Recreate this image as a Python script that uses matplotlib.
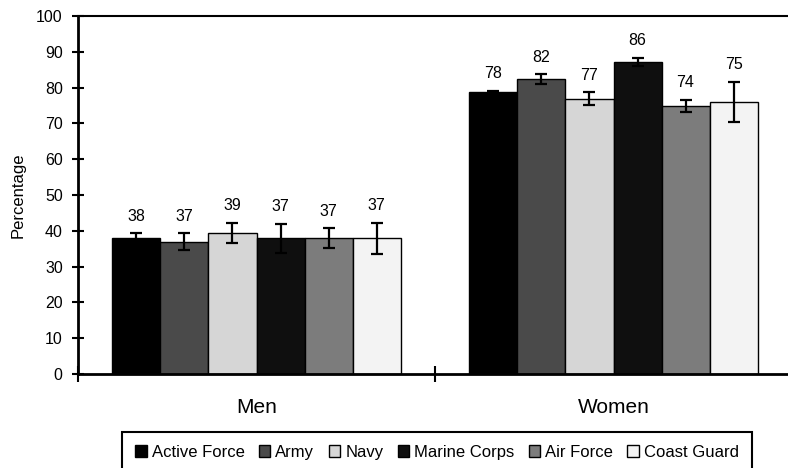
import matplotlib
matplotlib.use("Agg")
import matplotlib.pyplot as plt
from matplotlib.patches import Patch
import numpy as np

plt.rcParams['font.family'] = ['Liberation Sans', 'DejaVu Sans']

groups = ['Men', 'Women']
services = ['Active Force', 'Army', 'Navy', 'Marine Corps', 'Air Force', 'Coast Guard']
men_values = [37.9, 36.9, 39.4, 37.9, 37.9, 37.9]
women_values = [78.7, 82.4, 76.9, 87.1, 74.9, 76.0]
men_err = [1.4, 2.4, 2.8, 4.0, 2.8, 4.3]
women_err = [0.4, 1.3, 1.8, 1.2, 1.6, 5.6]
men_labels = ['38', '37', '39', '37', '37', '37']
women_labels = ['78', '82', '77', '86', '74', '75']
yticks = [0, 10, 20, 30, 40, 50, 60, 70, 80, 90, 100]

colors = ['#000000', '#4a4a4a', '#d6d6d6', '#0f0f0f', '#7c7c7c', '#f3f3f3']

W, H = 788, 468
fig = plt.figure(figsize=(W / 100, H / 100), dpi=100)
ax = fig.add_axes([78 / W, 1 - 374 / H, (792 - 78) / W, (374 - 16) / H])

n = len(services)
bw = 0.1345
x = np.arange(len(groups))
for i in range(n):
    vals = [men_values[i], women_values[i]]
    errs = [men_err[i], women_err[i]]
    labs = [men_labels[i], women_labels[i]]
    pos = x + (i - (n - 1) / 2) * bw
    ax.bar(pos, vals, width=bw, color=colors[i], edgecolor='black', linewidth=1.0, zorder=2)
    ax.errorbar(pos, vals, yerr=errs, fmt='none', ecolor='black', elinewidth=1.6,
                capsize=4.3, capthick=1.6, zorder=3)
    for p, v, e, l in zip(pos, vals, errs, labs):
        ax.annotate(l, (p, v + e), xytext=(0, 7), textcoords='offset points',
                    ha='center', va='bottom', fontsize=11.5)

ax.set_xlim(-0.5, 1.5)
ax.set_ylim(0, 100)
ax.set_yticks(yticks)
ax.tick_params(axis='y', direction='inout', length=8, width=1.5, labelsize=11.5, pad=7)
ax.set_xticks(x)
ax.set_xticklabels(groups, fontsize=15)
ax.tick_params(axis='x', length=0, pad=17)
ax.set_xticks([-0.5, 0.5, 1.5], minor=True)
ax.tick_params(axis='x', which='minor', direction='inout', length=11, width=1.5)

for s in ['left', 'bottom']:
    ax.spines[s].set_linewidth(2)
ax.spines['top'].set_linewidth(1.5)
ax.spines['right'].set_visible(False)

ax.set_ylabel('Percentage', fontsize=12)
ax.yaxis.set_label_coords(-0.073, 0.5)

handles = [Patch(facecolor=c, edgecolor='black', linewidth=1.0) for c in colors]
leg = fig.legend(handles, services, ncol=6, loc='upper left',
                 bbox_to_anchor=(121.7 / W, 1 - 431.7 / H), fontsize=12,
                 frameon=True, fancybox=False, edgecolor='black', framealpha=1,
                 handlelength=0.7, handleheight=0.7, handletextpad=0.3,
                 columnspacing=0.85, borderpad=0.8, borderaxespad=0)
leg.get_frame().set_linewidth(1.5)

fig.savefig('out.png', dpi=100)
